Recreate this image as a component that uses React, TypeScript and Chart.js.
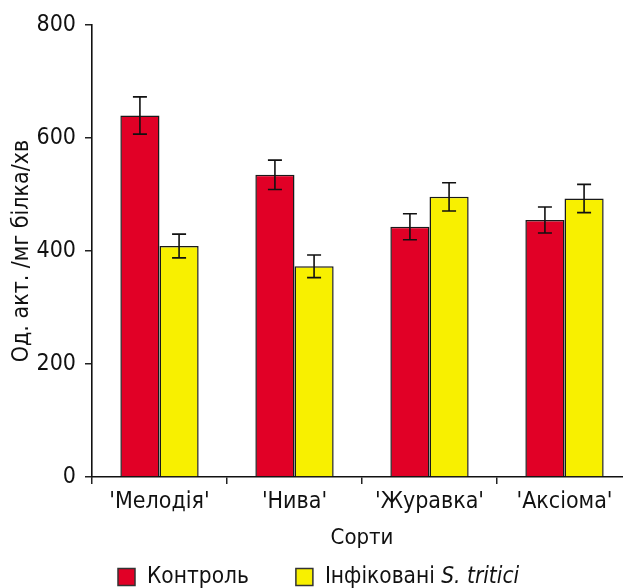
import React, { useEffect, useRef } from "react";
import { Chart, registerables } from "chart.js";

Chart.register(...registerables);

const CATEGORIES = ["'Мелодія'", "'Нива'", "'Журавка'", "'Аксіома'"];
const CONTROL = [640, 535, 443, 455];
const CONTROL_ERR = [33, 26, 23, 23];
const INFECTED = [409, 373, 496, 493];
const INFECTED_ERR = [21, 20, 25, 25];
const Y_TICKS = [0, 200, 400, 600, 800];
const SERIES_LABELS = ["Контроль", "Інфіковані "];
const SERIES_LABELS_ITALIC = ["", "S. tritici"];
const X_TITLE = "Сорти";
const Y_TITLE = "Од. акт. /мг білка/хв";

const FONT = '"DejaVu Sans Condensed", "Liberation Sans Narrow", "DejaVu Sans", sans-serif';
const RED = "#e10026";
const YELLOW = "#f8f000";
const TEXT = "#111111";

const ERRORS = [CONTROL_ERR, INFECTED_ERR];

const errorBarPlugin = {
  id: "errorBars",
  afterDatasetsDraw(chart: any) {
    const ctx = chart.ctx;
    const y = chart.scales.y;
    ctx.save();
    ctx.strokeStyle = "#111";
    ctx.lineWidth = 1.6;
    chart.data.datasets.forEach((ds: any, i: number) => {
      const meta = chart.getDatasetMeta(i);
      meta.data.forEach((el: any, j: number) => {
        const v = ds.data[j];
        const e = ERRORS[i][j];
        const top = y.getPixelForValue(v + e);
        const bot = y.getPixelForValue(v - e);
        const x = el.x;
        const cap = 7;
        ctx.beginPath();
        ctx.moveTo(x, top);
        ctx.lineTo(x, bot);
        ctx.moveTo(x - cap, top);
        ctx.lineTo(x + cap, top);
        ctx.moveTo(x - cap, bot);
        ctx.lineTo(x + cap, bot);
        ctx.stroke();
      });
    });
    ctx.restore();
  },
};

const legendPlugin = {
  id: "customLegend",
  afterDraw(chart: any) {
    const ctx = chart.ctx;
    const size = 17;
    const cy = chart.height - 11;
    let x = 118;
    ctx.save();
    ctx.textBaseline = "middle";
    chart.data.datasets.forEach((ds: any, i: number) => {
      ctx.fillStyle = ds.backgroundColor;
      ctx.fillRect(x, cy - size / 2, size, size);
      ctx.strokeStyle = "#333";
      ctx.lineWidth = 1.5;
      ctx.strokeRect(x, cy - size / 2, size, size);
      x += size + 12;
      ctx.fillStyle = TEXT;
      ctx.font = `22.5px ${FONT}`;
      ctx.fillText(SERIES_LABELS[i], x, cy);
      x += ctx.measureText(SERIES_LABELS[i]).width;
      if (SERIES_LABELS_ITALIC[i]) {
        ctx.font = `italic 22.5px ${FONT}`;
        ctx.fillText(SERIES_LABELS_ITALIC[i], x, cy);
        x += ctx.measureText(SERIES_LABELS_ITALIC[i]).width;
      }
      x += 47;
    });
    ctx.restore();
  },
};

export default function App() {
  const ref = useRef<HTMLCanvasElement | null>(null);
  useEffect(() => {
    if (!ref.current) return;
    const chart = new Chart(ref.current, {
      type: "bar",
      data: {
        labels: CATEGORIES,
        datasets: [
          {
            label: SERIES_LABELS[0],
            data: CONTROL,
            backgroundColor: RED,
            borderColor: "#1a1a1a",
            borderWidth: 1.5,
            categoryPercentage: 0.58,
            barPercentage: 1,
          },
          {
            label: SERIES_LABELS[1] + SERIES_LABELS_ITALIC[1],
            data: INFECTED,
            backgroundColor: YELLOW,
            borderColor: "#1a1a1a",
            borderWidth: 1.5,
            categoryPercentage: 0.58,
            barPercentage: 1,
          },
        ],
      },
      options: {
        responsive: false,
        animation: false,
        layout: { padding: { top: 14, right: 8, bottom: 37, left: 0 } },
        plugins: { legend: { display: false }, tooltip: { enabled: false } },
        scales: {
          x: {
            grid: {
              drawOnChartArea: false,
              drawTicks: true,
              tickLength: 7,
              color: "#222",
              lineWidth: 1.5,
            },
            border: { color: "#111", width: 1.6 },
            ticks: {
              color: TEXT,
              font: { family: FONT, size: 23 },
              padding: 4,
              maxRotation: 0,
            },
            title: {
              display: true,
              text: X_TITLE,
              color: TEXT,
              font: { family: FONT, size: 22 },
              padding: { top: 5, bottom: 0 },
            },
          },
          y: {
            min: 0,
            max: 800,
            afterFit(scale: any) {
              scale.width = 92;
            },
            afterBuildTicks(scale: any) {
              scale.ticks = Y_TICKS.map((v) => ({ value: v }));
            },
            grid: {
              drawOnChartArea: false,
              tickLength: 7,
              color: "#222",
              lineWidth: 1.5,
            },
            border: { color: "#111", width: 1.6 },
            ticks: {
              color: TEXT,
              font: { family: FONT, size: 23, lineHeight: 1.4 },
              padding: 9,
            },
            title: {
              display: true,
              text: Y_TITLE,
              color: TEXT,
              font: { family: FONT, size: 23 },
              padding: { top: 8, bottom: 0 },
            },
          },
        },
      },
      plugins: [errorBarPlugin, legendPlugin],
    } as any);
    return () => chart.destroy();
  }, []);
  return (
    <div
      style={{
        position: "fixed",
        left: 0,
        top: 0,
        width: 623,
        height: 588,
        overflow: "hidden",
        background: "#fff",
      }}
    >
      <canvas ref={ref} width={640} height={588} style={{ display: "block" }} />
    </div>
  );
}
